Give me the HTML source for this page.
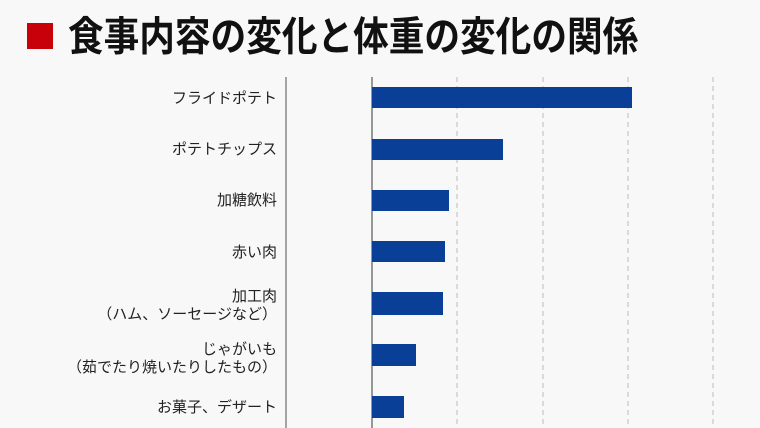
<!DOCTYPE html>
<html><head><meta charset="utf-8"><style>
body{margin:0;width:760px;height:428px;background:#f8f8f8;overflow:hidden;position:relative;font-family:"Liberation Sans","Noto Sans CJK JP",sans-serif;}
.t{position:absolute;left:68px;top:12px;font-size:36px;font-weight:bold;color:#111;white-space:nowrap;line-height:50px;transform-origin:0 50%;transform:scale(0.99,1.12);}
.sq{position:absolute;left:27px;top:23px;width:26px;height:26px;background:#c8000a;}
.l{position:absolute;right:483px;font-size:15px;color:#222;text-align:right;line-height:18px;white-space:nowrap;}
</style></head><body>
<div class="sq"></div>
<div class="t">食事内容の変化と体重の変化の関係</div>
<svg width="760" height="428" style="position:absolute;left:0;top:0">
<line x1="286" y1="77" x2="286" y2="428" stroke="#888" stroke-width="1.5"/>
<g stroke="#bbb" stroke-dasharray="5,4" stroke-width="1">
<line x1="457" y1="77" x2="457" y2="428"/><line x1="543" y1="77" x2="543" y2="428"/>
<line x1="628" y1="77" x2="628" y2="428"/><line x1="713" y1="77" x2="713" y2="428"/>
</g>
<line x1="372" y1="77" x2="372" y2="428" stroke="#777" stroke-width="1.5"/>
<g fill="#0a3f98">
<rect x="372" y="87" width="260" height="21"/>
<rect x="372" y="139" width="131" height="21"/>
<rect x="372" y="190" width="77" height="21"/>
<rect x="372" y="241" width="73" height="21"/>
<rect x="372" y="292" width="71" height="23"/>
<rect x="372" y="344" width="44" height="22"/>
<rect x="372" y="396" width="32" height="22"/>
</g>
</svg>
<div class="l" style="top:90px">フライドポテト</div>
<div class="l" style="top:141px">ポテトチップス</div>
<div class="l" style="top:192px">加糖飲料</div>
<div class="l" style="top:244px">赤い肉</div>
<div class="l" style="top:288px">加工肉<br>（ハム、ソーセージなど）</div>
<div class="l" style="top:341px">じゃがいも<br>（茹でたり焼いたりしたもの）</div>
<div class="l" style="top:399px">お菓子、デザート</div>
</body></html>
